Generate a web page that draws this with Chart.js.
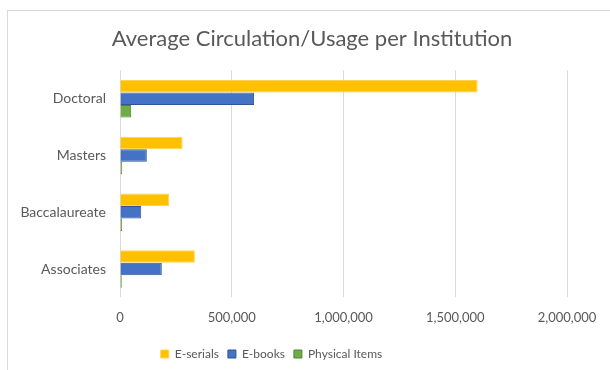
<!DOCTYPE html>
<html>
<head>
<meta charset="utf-8">
<script src="https://cdn.jsdelivr.net/npm/chart.js@4"></script>
<style>
  html, body { margin: 0; padding: 0; background: #fff; overflow: hidden; }
  #frame {
    position: absolute; left: 7px; top: 10px; width: 640px; height: 400px;
    border: 1px solid #d9d9d9; box-sizing: border-box;
  }
  #wrap { position: absolute; left: 0; top: 0; width: 610px; height: 370px; }
</style>
</head>
<body>
<div id="frame"></div>
<div id="wrap"><canvas id="chart" width="610" height="370"></canvas></div>
<script>
const categories = ['Doctoral', 'Masters', 'Baccalaureate', 'Associates'];
const eSerials = [1600000, 280000, 220000, 335000];
const eBooks = [600000, 120000, 95000, 187000];
const physicalItems = [50000, 10000, 9000, 8000];
const tickValues = [0, 500000, 1000000, 1500000, 2000000];

const grey = '#595959';
const fontFamily = 'Lato, "Open Sans", sans-serif';

// the title sits centred on the whole frame, the legend a bit left of the plot centre
const shiftBoxes = {
    id: 'shiftBoxes',
    afterLayout: function(chart) {
        const t = chart.titleBlock;
        const tShift = 312 - (t.left + t.right) / 2;
        t.left += tShift; t.right += tShift;
        const l = chart.legend;
        l.left -= 12; l.right -= 12;
    }
};

document.addEventListener('DOMContentLoaded', function() {
    const ctx = document.getElementById('chart').getContext('2d');

    new Chart(ctx, {
        type: 'bar',
        data: {
            labels: categories,
            datasets: [
                { label: 'E-serials', data: eSerials, backgroundColor: '#ffc000', borderColor: '#ffd24d', borderWidth: 1 },
                { label: 'E-books', data: eBooks, backgroundColor: '#4472c4', borderColor: '#2f5597', borderWidth: 1 },
                { label: 'Physical Items', data: physicalItems, backgroundColor: '#70ad47', borderColor: '#548235', borderWidth: 1 }
            ]
        },
        plugins: [shiftBoxes],
        options: {
            indexAxis: 'y',
            responsive: false,
            animation: false,
            layout: { padding: { left: 0, right: 43, top: 0, bottom: 0 } },
            plugins: {
                title: {
                    display: true,
                    text: 'Average Circulation/Usage per Institution',
                    color: grey,
                    font: { family: fontFamily, size: 22, weight: 'normal' },
                    padding: { top: 26, bottom: 18 }
                },
                legend: {
                    position: 'bottom',
                    labels: {
                        color: grey,
                        boxWidth: 8,
                        boxHeight: 8,
                        padding: 9,
                        font: { family: fontFamily, size: 12 }
                    }
                },
                tooltip: { enabled: false }
            },
            datasets: {
                bar: { barPercentage: 1, categoryPercentage: 0.66 }
            },
            scales: {
                x: {
                    min: 0,
                    max: 2000000,
                    afterBuildTicks: function(scale) {
                        scale.ticks = tickValues.map(v => ({ value: v }));
                    },
                    grid: { color: '#d9d9d9', drawTicks: false },
                    border: { display: false },
                    ticks: {
                        color: grey,
                        padding: 13,
                        maxRotation: 0,
                        font: { family: fontFamily, size: 13 },
                        callback: function(v) { return v.toLocaleString('en-US'); }
                    }
                },
                y: {
                    grid: { display: false },
                    border: { display: false },
                    afterFit: function(scale) { scale.width = 120; },
                    ticks: {
                        color: grey,
                        padding: 6,
                        font: { family: fontFamily, size: 14 }
                    }
                }
            }
        }
    });
});
</script>
</body>
</html>
